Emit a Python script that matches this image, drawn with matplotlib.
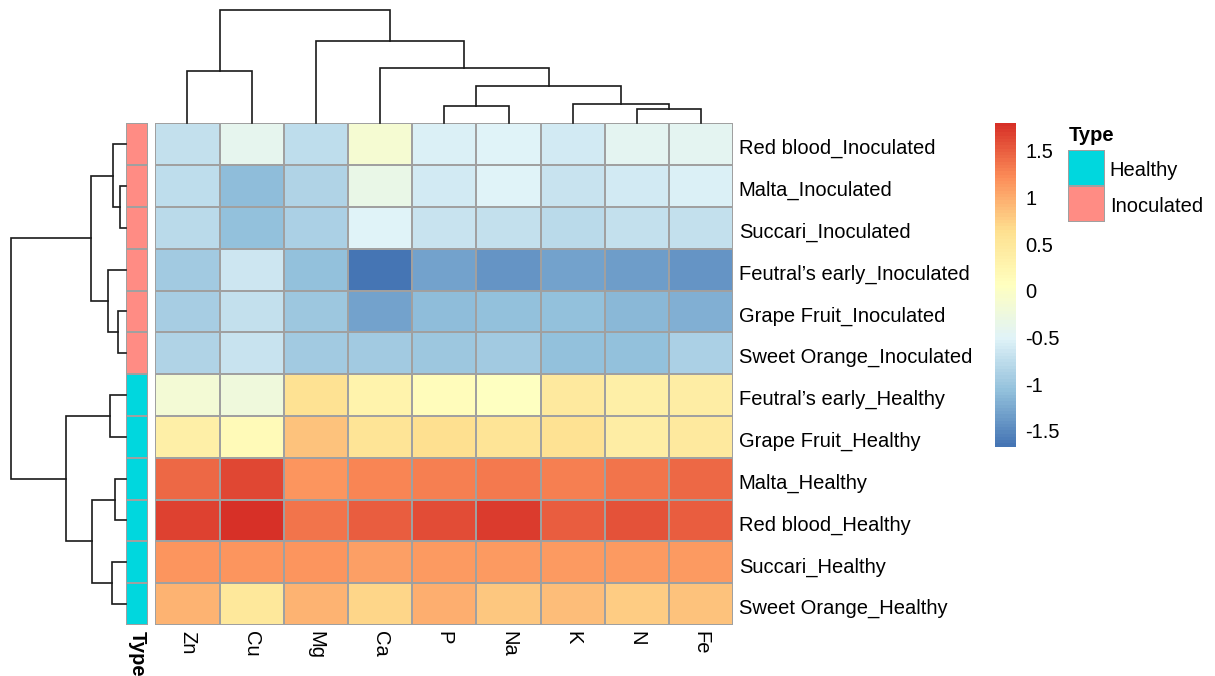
import numpy as np
import matplotlib
matplotlib.use("Agg")
import matplotlib.pyplot as plt
from matplotlib.colors import LinearSegmentedColormap, ListedColormap, Normalize
from matplotlib.cm import ScalarMappable
from matplotlib.transforms import ScaledTranslation

plt.rcParams['font.family'] = ['Liberation Sans', 'DejaVu Sans']

# Samples in clustered order (top to bottom)
samples = ["Red blood_Inoculated", "Malta_Inoculated", "Succari_Inoculated",
           "Feutral’s early_Inoculated", "Grape Fruit_Inoculated",
           "Sweet Orange_Inoculated", "Feutral’s early_Healthy",
           "Grape Fruit_Healthy", "Malta_Healthy", "Red blood_Healthy",
           "Succari_Healthy", "Sweet Orange_Healthy"]
sample_type = ["Inoculated"] * 6 + ["Healthy"] * 6

# Elements in clustered order (left to right)
elements = ["Zn", "Cu", "Mg", "Ca", "P", "Na", "K", "N", "Fe"]

# Scaled concentrations per element (row z-scores)
Zn = [-0.70, -0.75, -0.80, -0.95, -0.92, -0.85, -0.15, 0.35, 1.45, 1.68, 1.15, 0.95]
Cu = [-0.42, -1.10, -1.05, -0.65, -0.70, -0.68, -0.22, 0.15, 1.65, 1.80, 1.15, 0.50]
Mg = [-0.75, -0.85, -0.90, -1.05, -1.00, -0.95, 0.62, 0.85, 1.15, 1.35, 1.15, 0.95]
Ca = [-0.12, -0.32, -0.52, -1.67, -1.30, -0.95, 0.30, 0.58, 1.25, 1.50, 1.08, 0.72]
P = [-0.55, -0.60, -0.68, -1.30, -1.10, -1.00, 0.10, 0.65, 1.30, 1.62, 1.12, 0.98]
Na = [-0.52, -0.50, -0.72, -1.40, -1.05, -0.95, 0.05, 0.58, 1.32, 1.70, 1.12, 0.80]
K = [-0.60, -0.68, -0.78, -1.30, -1.08, -1.05, 0.45, 0.60, 1.30, 1.50, 1.12, 0.88]
N = [-0.45, -0.60, -0.72, -1.33, -1.12, -1.05, 0.35, 0.40, 1.38, 1.58, 1.12, 0.78]
Fe = [-0.45, -0.55, -0.72, -1.42, -1.20, -0.90, 0.40, 0.48, 1.42, 1.50, 1.12, 0.85]

# Linkage merges: (child a, child b, height); new clusters numbered from n
col_merges = [(7, 8, 1.26), (4, 5, 1.53), (6, 9, 1.68), (10, 11, 3.24),
              (0, 1, 4.59), (3, 12, 4.83), (2, 14, 7.26), (13, 15, 10.0)]
row_merges = [(1, 2, 0.50), (4, 5, 0.67), (8, 9, 0.94), (0, 12, 1.08),
              (10, 11, 1.22), (6, 7, 1.37), (3, 13, 1.55), (14, 16, 2.91),
              (15, 18, 3.06), (17, 19, 5.19), (20, 21, 10.0)]

type_levels = ["Healthy", "Inoculated"]
type_colors = ["#00D7DE", "#FF8C84"]

mat = np.array([Zn, Cu, Mg, Ca, P, Na, K, N, Fe]).T

W, H = 1215, 676
fig = plt.figure(figsize=(W / 100, H / 100), dpi=100)


def px_axes(x0, y0, x1, y1):
    return fig.add_axes([x0 / W, 1 - y1 / H, (x1 - x0) / W, (y1 - y0) / H])


def no_spines(a):
    for s in a.spines.values():
        s.set_visible(False)


cmap = LinearSegmentedColormap.from_list(
    "rdylbu_r", ["#4575B4", "#91BFDB", "#E0F3F8", "#FFFFBF",
                 "#FEE090", "#FC8D59", "#D73027"], N=100)
norm = Normalize(vmin=mat.min(), vmax=mat.max())
type_cmap = ListedColormap(type_colors)
grid = "#A0A0A0"
fs = 14.5
nudge = ScaledTranslation(0, -2.5 / 100, fig.dpi_scale_trans)

# heatmap body
ax = px_axes(155.3, 123.3, 733.3, 625)
ax.pcolormesh(np.arange(len(elements) + 1), np.arange(len(samples) + 1), mat,
              cmap=cmap, norm=norm, edgecolors=grid, linewidth=1.1)
ax.set_xlim(0, len(elements))
ax.set_ylim(len(samples), 0)
ax.yaxis.tick_right()
ax.set_yticks(np.arange(len(samples)) + 0.5)
ax.set_yticklabels(samples, fontsize=fs)
ax.set_xticks(np.arange(len(elements)) + 0.5)
ax.set_xticklabels(elements, fontsize=fs, rotation=270, va='top', ha='center')
ax.tick_params(axis='y', length=0, pad=4)
ax.tick_params(axis='x', length=0, pad=4)
for lbl in ax.get_yticklabels():
    lbl.set_transform(lbl.get_transform() + nudge)
no_spines(ax)

# annotation column
ax_ann = px_axes(125.7, 123.3, 148.3, 625)
codes = np.array([[type_levels.index(t)] for t in sample_type])
ax_ann.pcolormesh(np.arange(2), np.arange(len(samples) + 1), codes,
                  cmap=type_cmap, vmin=0, vmax=1, edgecolors=grid, linewidth=1.1)
ax_ann.set_xlim(0, 1)
ax_ann.set_ylim(len(samples), 0)
ax_ann.set_yticks([])
ax_ann.set_xticks([0.5])
ax_ann.set_xticklabels(["Type"], fontsize=fs, fontweight='bold',
                       rotation=270, va='top', ha='center')
ax_ann.tick_params(length=0, pad=4)
no_spines(ax_ann)


def draw_tree(tax, merges, n, orient):
    pos = {i: i + 0.5 for i in range(n)}
    hgt = {i: 0.0 for i in range(n)}
    for k, (a, b, h) in enumerate(merges):
        xs = [pos[a], pos[a], pos[b], pos[b]]
        ys = [hgt[a], h, h, hgt[b]]
        if orient == "left":
            xs, ys = ys, xs
        tax.plot(xs, ys, color="#1a1a1a", lw=1.2, clip_on=False,
                 solid_joinstyle='miter')
        pos[n + k] = (pos[a] + pos[b]) / 2
        hgt[n + k] = h
    tax.axis("off")


# column dendrogram
ax_ct = px_axes(155.3, 9.7, 733.3, 123.3)
draw_tree(ax_ct, col_merges, len(elements), "top")
ax_ct.set_xlim(0, len(elements))
ax_ct.set_ylim(0, col_merges[-1][2])

# row dendrogram
ax_rt = px_axes(10.7, 123.3, 125.7, 625)
draw_tree(ax_rt, row_merges, len(samples), "left")
ax_rt.set_xlim(row_merges[-1][2], 0)
ax_rt.set_ylim(len(samples), 0)

# colour key
ax_cb = px_axes(995, 122.7, 1016, 446.7)
cb = fig.colorbar(ScalarMappable(norm=norm, cmap=cmap), cax=ax_cb)
cb.outline.set_visible(False)
cb.set_ticks([-1.5, -1, -0.5, 0, 0.5, 1, 1.5])
cb.set_ticklabels(["-1.5", "-1", "-0.5", "0", "0.5", "1", "1.5"])
ax_cb.tick_params(length=0, labelsize=fs, pad=6.5)

# annotation legend
ax_leg = px_axes(1068.3, 150, 1105, 222.3)
ax_leg.pcolormesh(np.arange(2), np.arange(len(type_levels) + 1),
                  np.arange(len(type_levels)).reshape(-1, 1),
                  cmap=type_cmap, vmin=0, vmax=1, edgecolors=grid, linewidth=1.1)
ax_leg.set_xlim(0, 1)
ax_leg.set_ylim(len(type_levels), 0)
ax_leg.set_xticks([])
ax_leg.yaxis.tick_right()
ax_leg.set_yticks(np.arange(len(type_levels)) + 0.5)
ax_leg.set_yticklabels(type_levels, fontsize=fs)
ax_leg.tick_params(length=0, pad=3.5)
ax_leg.set_title("Type", loc='left', fontsize=fs, fontweight='bold', pad=6.5)
no_spines(ax_leg)

fig.savefig("out.png", dpi=100)
